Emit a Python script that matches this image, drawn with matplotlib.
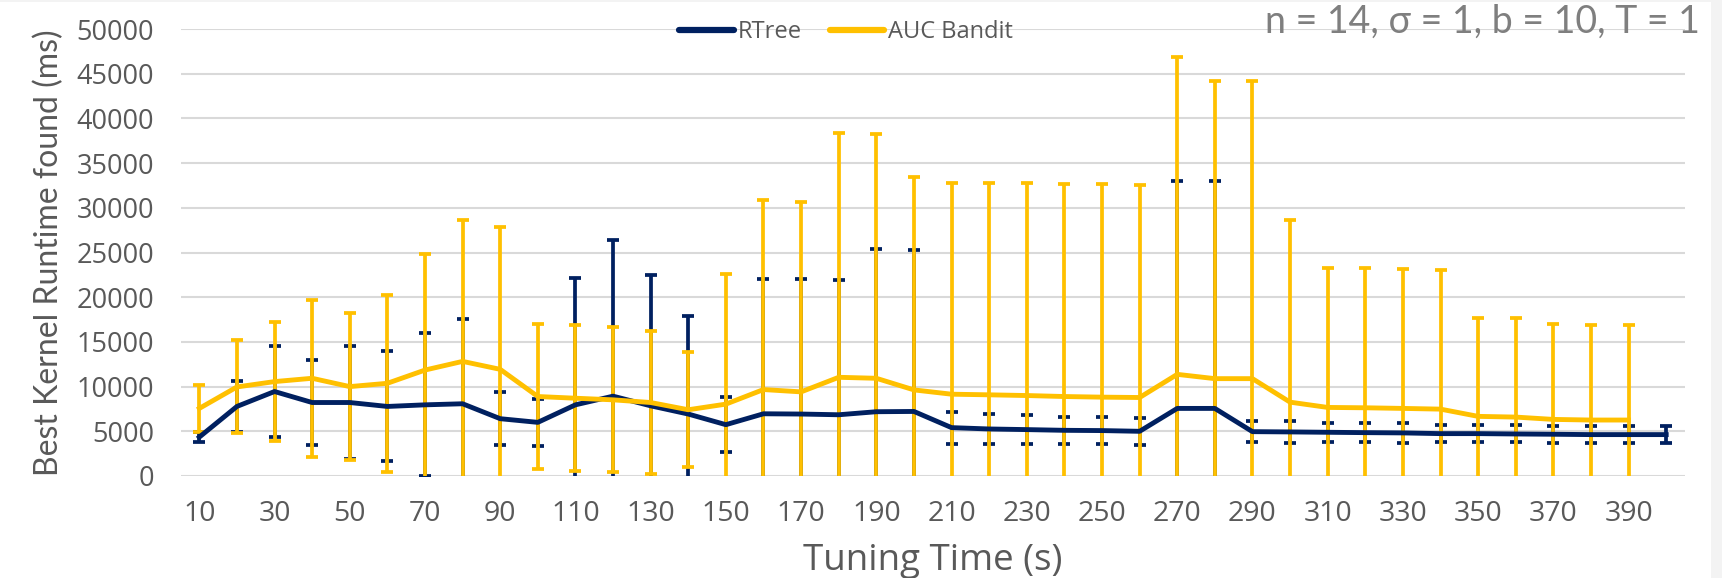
import matplotlib
matplotlib.use("Agg")
import matplotlib.pyplot as plt
from matplotlib.patches import Rectangle

# tuning time in seconds (category axis)
times_rtree = list(range(10, 410, 10))
times_auc = list(range(10, 400, 10))

# mean best kernel runtime (ms) and its spread
rtree_mean = [4350, 7780, 9450, 8220, 8220, 7780, 7960, 8080, 6410, 6000,
              7960, 8930, 7850, 6930, 5740, 6960, 6930, 6850, 7190, 7220,
              5410, 5260, 5190, 5110, 5080, 5000, 7560, 7560, 4960, 4930,
              4890, 4850, 4820, 4740, 4740, 4700, 4670, 4630, 4630, 4630]
rtree_err = [600, 2900, 5080, 4720, 6330, 6150, 8000, 9450, 2970, 2630,
             14220, 17480, 14590, 11000, 3110, 15110, 15070, 15070, 18150, 18080,
             1800, 1700, 1640, 1500, 1540, 1540, 25490, 25490, 1200, 1200,
             1060, 1050, 1090, 950, 950, 950, 930, 930, 930, 930]

auc_mean = [7560, 9960, 10560, 10930, 10000, 10370, 11850, 12820, 11930, 8890,
            8700, 8520, 8220, 7410, 8040, 9670, 9410, 11040, 10930, 9630,
            9150, 9080, 9000, 8890, 8820, 8780, 11370, 10890, 10890, 8260,
            7670, 7630, 7560, 7480, 6670, 6590, 6330, 6260, 6260]
auc_err = [2600, 5200, 6700, 8800, 8250, 9870, 12960, 15860, 15970, 8130,
           8170, 8100, 8050, 6450, 14590, 21160, 21270, 27320, 27280, 23790,
           23600, 23680, 23750, 23720, 23790, 23750, 35480, 33320, 33320, 20410,
           15630, 15670, 15630, 15590, 11000, 11080, 10630, 10670, 10670]

NAVY = "#002060"
GOLD = "#FFC000"
TXT = "#595959"

fig = plt.figure(figsize=(17.22, 5.78), dpi=100)
fig.patch.set_facecolor("#f3f3f3")
fig.patches.append(Rectangle((0, 0), 1711 / 1722, 576 / 578, transform=fig.transFigure,
                             facecolor="white", edgecolor="none", zorder=-1))

ax = fig.add_axes([180.5 / 1722, 102 / 578, 1504.5 / 1722, 447 / 578])
ax.set_facecolor("none")

# error bars first so the series lines sit on top of them
ax.errorbar(times_rtree, rtree_mean, yerr=rtree_err, fmt="none", ecolor=NAVY,
            elinewidth=2.7, capsize=4.5, capthick=2.7, zorder=2)
ax.errorbar(times_auc, auc_mean, yerr=auc_err, fmt="none", ecolor=GOLD,
            elinewidth=2.7, capsize=4.5, capthick=2.7, zorder=3)
ax.plot(times_rtree, rtree_mean, color=NAVY, lw=3.5, label="RTree", zorder=4,
        solid_joinstyle="round")
ax.plot(times_auc, auc_mean, color=GOLD, lw=3.5, label="AUC Bandit", zorder=5,
        solid_joinstyle="round")

ax.set_xlim(5, 405)
ax.set_ylim(0, 50000)
ax.set_yticks(range(0, 50001, 5000))
ax.set_xticks(range(10, 400, 20))
ax.grid(axis="y", color="#d9d9d9", lw=1.5, zorder=0)
ax.set_axisbelow(True)
for s in ax.spines.values():
    s.set_visible(False)
ax.tick_params(length=0, colors=TXT)
ax.tick_params(axis="y", pad=19, labelsize=19.5)
ax.tick_params(axis="x", pad=17, labelsize=20.5)
for lab in ax.get_xticklabels() + ax.get_yticklabels():
    lab.set_fontfamily("Open Sans")

ax.set_xlabel("Tuning Time (s)", fontsize=26.5, color=TXT, family="Open Sans", labelpad=11)
ax.set_ylabel("Best Kernel Runtime found (ms)", fontsize=23, color=TXT, family="Lato",
              labelpad=9)

leg = ax.legend(loc="center", bbox_to_anchor=(846 / 1722, 1 - 32 / 578),
                bbox_transform=fig.transFigure, ncol=2, frameon=False,
                handlelength=2.3, handletextpad=0.15, columnspacing=1.2,
                prop={"family": "Open Sans", "size": 17})
for t in leg.get_texts():
    t.set_color(TXT)
for h in leg.get_lines():
    h.set_linewidth(4.5)
    h.set_solid_capstyle("round")

fig.text(1700 / 1722, 1 - 22 / 578, "n = 14, σ = 1, b = 10, T = 1", ha="right", va="center",
         fontsize=27, color="#7f7f7f", family="Lato")

fig.savefig("out.png", dpi=100, facecolor=fig.get_facecolor())
